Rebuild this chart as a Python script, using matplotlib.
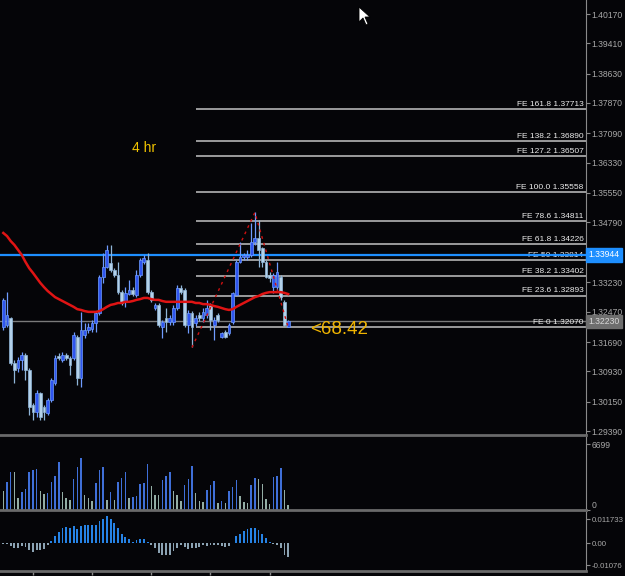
import matplotlib
matplotlib.use("Agg")
import matplotlib.pyplot as plt
from matplotlib.patches import Polygon

plt.rcParams['font.family'] = ['Liberation Sans', 'DejaVu Sans']

# --- candle data (4 hr bars) ---
opens = [1.3208, 1.3213, 1.3231, 1.3115, 1.3102, 1.3123, 1.3136, 1.3097, 1.3006, 1.2988,
         1.3037, 1.3001, 1.2986, 1.3019, 1.3063, 1.3133, 1.3123, 1.3136, 1.3128, 1.3128,
         1.3182, 1.3076, 1.3187, 1.3200, 1.3203, 1.3218, 1.3244, 1.3337, 1.3363, 1.3373,
         1.3355, 1.3342, 1.3298, 1.3273, 1.3293, 1.3304, 1.3291, 1.3342, 1.3376, 1.3381,
         1.3298, 1.3257, 1.3265, 1.3208, 1.3231, 1.3221, 1.3221, 1.3257, 1.3309, 1.3304,
         1.3213, 1.3244, 1.3218, 1.3239, 1.3231, 1.3239, 1.3265, 1.3213, 1.3239, 1.3182,
         1.3195, 1.3192, 1.3221, 1.3291, 1.3376, 1.3389, 1.3389, 1.3394, 1.3428, 1.3438,
         1.3412, 1.3376, 1.3342, 1.3311, 1.3311, 1.3337, 1.3273, 1.3208]
highs = [1.3283, 1.3298, 1.3234, 1.3123, 1.3130, 1.3143, 1.3141, 1.3102, 1.3011, 1.3045,
         1.3040, 1.3006, 1.3024, 1.3076, 1.3136, 1.3141, 1.3143, 1.3141, 1.3133, 1.3195,
         1.3187, 1.3247, 1.3218, 1.3218, 1.3226, 1.3249, 1.3342, 1.3399, 1.3420, 1.3420,
         1.3360, 1.3376, 1.3304, 1.3311, 1.3329, 1.3311, 1.3355, 1.3386, 1.3394, 1.3399,
         1.3304, 1.3270, 1.3270, 1.3226, 1.3257, 1.3239, 1.3265, 1.3316, 1.3316, 1.3309,
         1.3252, 1.3249, 1.3239, 1.3247, 1.3257, 1.3278, 1.3270, 1.3234, 1.3244, 1.3195,
         1.3200, 1.3218, 1.3298, 1.3381, 1.3428, 1.3399, 1.3407, 1.3477, 1.3504, 1.3485,
         1.3415, 1.3381, 1.3350, 1.3348, 1.3376, 1.3342, 1.3278, 1.3226]
lows = [1.3200, 1.3208, 1.3110, 1.3063, 1.3092, 1.3097, 1.3071, 1.2980, 1.2968, 1.2975,
        1.2968, 1.2968, 1.2980, 1.3014, 1.3058, 1.3123, 1.3117, 1.3123, 1.3084, 1.3123,
        1.3058, 1.3053, 1.3180, 1.3192, 1.3195, 1.3195, 1.3239, 1.3322, 1.3360, 1.3350,
        1.3337, 1.3293, 1.3265, 1.3260, 1.3291, 1.3288, 1.3286, 1.3337, 1.3371, 1.3293,
        1.3273, 1.3252, 1.3208, 1.3180, 1.3195, 1.3213, 1.3213, 1.3252, 1.3293, 1.3208,
        1.3192, 1.3155, 1.3211, 1.3223, 1.3221, 1.3231, 1.3200, 1.3174, 1.3221, 1.3180,
        1.3180, 1.3187, 1.3216, 1.3288, 1.3373, 1.3381, 1.3381, 1.3389, 1.3420, 1.3363,
        1.3363, 1.3335, 1.3324, 1.3296, 1.3304, 1.3278, 1.3210, 1.3207]
closes = [1.3278, 1.3239, 1.3115, 1.3097, 1.3123, 1.3136, 1.3097, 1.3001, 1.2988, 1.3037,
          1.2975, 1.2988, 1.3019, 1.3071, 1.3128, 1.3128, 1.3136, 1.3128, 1.3110, 1.3187,
          1.3076, 1.3200, 1.3200, 1.3208, 1.3218, 1.3244, 1.3337, 1.3363, 1.3407, 1.3355,
          1.3342, 1.3298, 1.3270, 1.3296, 1.3304, 1.3293, 1.3342, 1.3381, 1.3386, 1.3298,
          1.3278, 1.3265, 1.3213, 1.3221, 1.3221, 1.3231, 1.3257, 1.3309, 1.3298, 1.3213,
          1.3244, 1.3208, 1.3231, 1.3231, 1.3247, 1.3257, 1.3226, 1.3226, 1.3226, 1.3192,
          1.3182, 1.3213, 1.3296, 1.3376, 1.3389, 1.3394, 1.3394, 1.3428, 1.3438, 1.3407,
          1.3376, 1.3337, 1.3335, 1.3342, 1.3350, 1.3286, 1.3212, 1.3223]

# red moving average
ma = [1.3451, 1.3443, 1.3430, 1.3420, 1.3407, 1.3394, 1.3376, 1.3360, 1.3348, 1.3335,
      1.3322, 1.3311, 1.3301, 1.3293, 1.3285, 1.3280, 1.3275, 1.3270, 1.3265, 1.3260,
      1.3254, 1.3252, 1.3249, 1.3247, 1.3247, 1.3247, 1.3249, 1.3254, 1.3260, 1.3265,
      1.3267, 1.3270, 1.3270, 1.3273, 1.3273, 1.3275, 1.3278, 1.3280, 1.3283, 1.3283,
      1.3280, 1.3278, 1.3278, 1.3275, 1.3273, 1.3273, 1.3273, 1.3273, 1.3273, 1.3273,
      1.3273, 1.3273, 1.3270, 1.3270, 1.3267, 1.3267, 1.3265, 1.3262, 1.3260, 1.3257,
      1.3254, 1.3252, 1.3254, 1.3260, 1.3265, 1.3270, 1.3275, 1.3280, 1.3285, 1.3288,
      1.3293, 1.3296, 1.3298, 1.3298, 1.3298, 1.3298, 1.3296, 1.3293]

volumes = [1958, 2886, 3813, 3813, 1237, 1855, 2164, 3813, 4019, 4122,
           1958, 1649, 1752, 2886, 3504, 4844, 1855, 1237, 1031, 3195,
           4329, 5256, 1546, 1237, 928, 2783, 4019, 4329, 1031, 1855,
           1031, 2886, 3298, 3813, 1237, 1340, 1443, 2680, 2783, 4638,
           2473, 1546, 1546, 3092, 3504, 3813, 1958, 1546, 928, 2577,
           3195, 4432, 1752, 928, 824, 2061, 2577, 2989, 721, 928,
           721, 1958, 2370, 3092, 1443, 824, 721, 2577, 3298, 3195,
           2680, 1134, 618, 3401, 3504, 4225, 2061, 515]

macd = [-0.0005, -0.0005, -0.0016, -0.0024, -0.0024, -0.0016, -0.0020, -0.0033, -0.0044, -0.0033,
        -0.0033, -0.0028, -0.0011, 0.0008, 0.0033, 0.0054, 0.0073, 0.0078, 0.0073, 0.0085,
        0.0068, 0.0081, 0.0090, 0.0090, 0.0090, 0.0090, 0.0109, 0.0117, 0.0134, 0.0117,
        0.0098, 0.0073, 0.0046, 0.0029, 0.0020, 0.0005, 0.0013, 0.0020, 0.0020, 0.0003,
        -0.0011, -0.0024, -0.0049, -0.0057, -0.0057, -0.0057, -0.0041, -0.0024, -0.0011, -0.0021,
        -0.0028, -0.0024, -0.0024, -0.0021, -0.0011, -0.0016, -0.0008, -0.0011, -0.0011, -0.0016,
        -0.0021, -0.0016, 0.0000, 0.0033, 0.0044, 0.0060, 0.0068, 0.0073, 0.0073, 0.0065,
        0.0044, 0.0024, 0.0005, -0.0005, -0.0011, -0.0024, -0.0057, -0.0068]

# Fibonacci expansion (A, B, C points and levels)
fe_idx = [51, 68, 77]
fe_price = [1.3155, 1.3504, 1.3207]
fe_names = ['161.8', '138.2', '127.2', '100.0', '78.6', '61.8', '50', '38.2', '23.6', '0']
fe_levels = [1.37713, 1.36890, 1.36507, 1.35558, 1.34811, 1.34226, 1.33814, 1.33402, 1.32893, 1.32070]

price_ticks = [1.40170, 1.39410, 1.38630, 1.37870, 1.37090, 1.36330, 1.35550, 1.34790,
               1.33230, 1.32470, 1.31690, 1.30930, 1.30150, 1.29390]
hline_blue = 1.33944
hline_grey = 1.32230

# --- figure ---
W, H = 625, 576
fig = plt.figure(figsize=(W / 100, H / 100), dpi=100, facecolor='#050508')


def px_axes(x0, y0, x1, y1):
    return fig.add_axes([x0 / W, 1 - y1 / H, (x1 - x0) / W, (y1 - y0) / H])


ax = px_axes(0, 0, 586, 435)
axv = px_axes(0, 437, 586, 510)
axm = px_axes(0, 512, 586, 571)

n = len(opens)
idx = list(range(n))
xlim = (-0.89, 157.5)
axis_grey = '#8a8a8a'
label_grey = '#a8a8a8'

for a in (ax, axv, axm):
    a.set_facecolor('#050508')
    a.set_xlim(*xlim)
    for s in ('left', 'top'):
        a.spines[s].set_visible(False)
    a.spines['right'].set_color(axis_grey)
    a.spines['bottom'].set_color('#6a6a6a')
    a.spines['bottom'].set_linewidth(2)
    a.yaxis.tick_right()
    a.tick_params(axis='y', colors=axis_grey, labelcolor=label_grey, labelsize=6.2,
                  length=3, width=0.8, pad=1)
    a.tick_params(axis='x', colors=axis_grey, length=0, labelbottom=False)

# --- main price panel ---
ax.set_ylim(1.29287, 1.40532)
ax.set_yticks(price_ticks)
ax.set_yticklabels([f'{p:.5f}' for p in price_ticks])

ax.axhline(hline_grey, color='#7a7a7a', lw=1, zorder=1)
ax.axhline(hline_blue, color='#1e8fff', lw=1.6, zorder=4)

for name, lvl in zip(fe_names, fe_levels):
    ax.hlines(lvl, 52, xlim[1], color='#b4b4b4', lw=1.2, zorder=2)
    ax.text(156.8, lvl + 0.0003, f'FE {name} {lvl:.5f}', ha='right', va='bottom',
            fontsize=6, color='#ececec', zorder=3)

bull_fill, bull_edge = '#2f55f0', '#6f9cff'
bear_fill, bear_edge = '#b4d2ea', '#8fb5d8'
for i in idx:
    up = closes[i] >= opens[i]
    ax.vlines(i, lows[i], highs[i], color=bull_edge if up else bear_edge, lw=0.9, zorder=5)
    lo, hi = min(opens[i], closes[i]), max(opens[i], closes[i])
    ax.bar(i, max(hi - lo, 0.00008), bottom=lo, width=0.75,
           color=bull_fill if up else bear_fill, edgecolor=bull_edge if up else bear_edge,
           linewidth=0.5, zorder=6)

ax.plot(idx, ma, color='#e01414', lw=1.8, zorder=7)
ax.plot(fe_idx, fe_price, color='#d01010', lw=1, ls=(0, (2, 3)), zorder=7)

# right-axis price boxes
ytr = ax.get_yaxis_transform()
ax.text(1.004, hline_blue, f'{hline_blue:.5f}', transform=ytr, ha='left', va='center',
        fontsize=6.2, color='white', clip_on=False, zorder=10,
        bbox=dict(boxstyle='square,pad=0.25', fc='#1e8fff', ec='#1e8fff'))
ax.text(1.004, hline_grey, f'{hline_grey:.5f}', transform=ytr, ha='left', va='center',
        fontsize=6.2, color='#d8d8d8', clip_on=False, zorder=10,
        bbox=dict(boxstyle='square,pad=0.25', fc='#6e6e6e', ec='#6e6e6e'))

ax.text(132 / 586, 1 - 148 / 435, '4 hr', transform=ax.transAxes, ha='left', va='center',
        fontsize=10, color='#f2c400')
ax.text(310 / 586, 1 - 330 / 435, '<68.42', transform=ax.transAxes, ha='left', va='center',
        fontsize=13.5, color='#f0b400')

# --- volume panel ---
axv.set_ylim(0, 7420)
axv.set_yticks([0, 6699])
axv.set_yticklabels(['0', '6699'])
axv.get_yticklabels()[0].set_va('bottom')
vcol = ['#3f6fd8' if i > 0 and volumes[i] > volumes[i - 1] else '#93ada5' for i in idx]
axv.bar(idx, volumes, width=0.4, color=vcol)

# --- MACD panel ---
axm.set_ylim(-0.01369, 0.01516)
axm.set_yticks([0.011733, 0.0, -0.01076])
axm.set_yticklabels(['0.011733', '0.00', '-0.01076'])
axm.tick_params(axis='y', labelsize=5.7, pad=0.8)
mcol = ['#2683e6' if v > 0 else '#8ca3b3' for v in macd]
axm.bar(idx, macd, width=0.5, color=mcol)
axm.set_xticks([8, 24, 40, 56, 72])
axm.tick_params(axis='x', length=3, width=1, colors=axis_grey)

# mouse pointer from the screenshot
cursor = [(359, 7), (359, 22), (363, 18), (366, 25), (368, 24), (365, 17), (370, 17)]
fig.patches.append(Polygon([(x / W, 1 - y / H) for x, y in cursor], closed=True,
                           transform=fig.transFigure, fc='white', ec='black', lw=0.6))

fig.savefig('out.png', dpi=100, facecolor=fig.get_facecolor())
